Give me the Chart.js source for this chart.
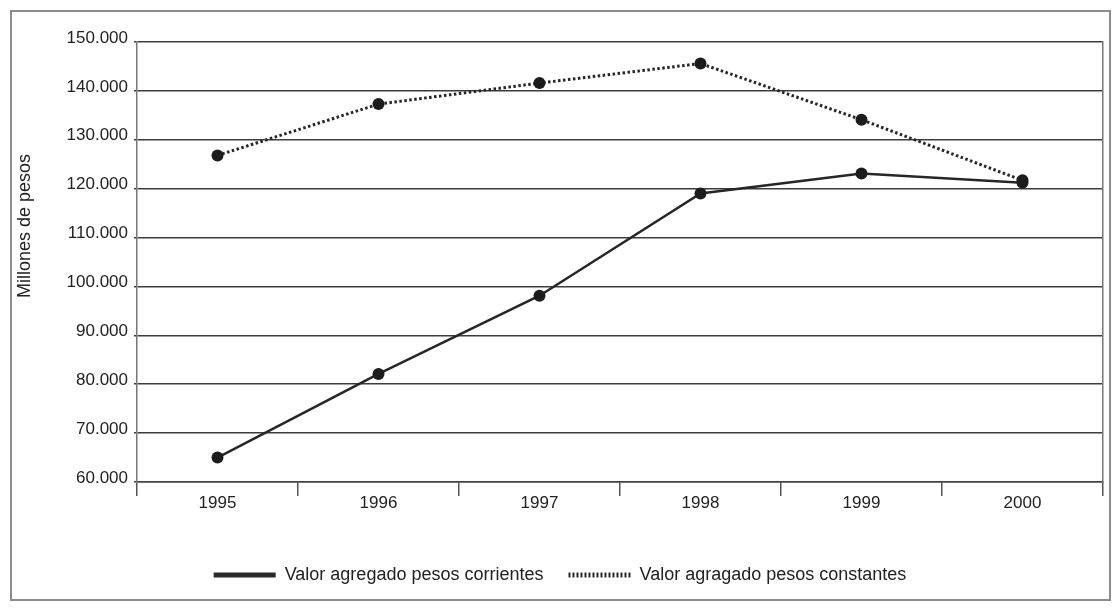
<!DOCTYPE html>
<html>
<head>
  <script src="https://cdn.jsdelivr.net/npm/chart.js"></script>
  <style>
    body {
      margin: 0px;
      background: #ffffff;
    }
    #wrap {
      position: absolute;
      left: 0px;
      top: 0px;
      width: 1120px;
      height: 610px;
    }
    #frame {
      position: absolute;
      left: 10px;
      top: 10px;
      width: 1097px;
      height: 587px;
      border: 2px solid #8c8c8c;
      pointer-events: none;
    }
  </style>
</head>
<body>
  <div id="wrap">
    <canvas id="lineChart" width="1120" height="610"></canvas>
    <div id="frame"></div>
  </div>

  <script>
    // Data
    var years = ['1995', '1996', '1997', '1998', '1999', '2000'];
    var corrientes = [65000, 82100, 98100, 119000, 123100, 121200];
    var constantes = [126800, 137300, 141600, 145600, 134100, 121700];
    var yTitle = 'Millones de pesos';
    var seriesNames = ['Valor agregado pesos corrientes', 'Valor agragado pesos constantes'];

    var fontFamily = '"Liberation Sans", Arial, sans-serif';
    var ink = '#222222';

    // y axis title is drawn by hand so it sits where the original has it
    var yTitlePlugin = {
      id: 'yTitle',
      afterDraw: function(chart) {
        var ctx = chart.ctx;
        ctx.save();
        ctx.translate(25, 226);
        ctx.rotate(-Math.PI / 2);
        ctx.font = '18px ' + fontFamily;
        ctx.fillStyle = ink;
        ctx.textAlign = 'center';
        ctx.textBaseline = 'middle';
        ctx.fillText(yTitle, 0, 0);
        ctx.restore();
      }
    };

    var config = {
      type: 'line',
      data: {
        labels: years,
        datasets: [{
          label: seriesNames[0],
          data: corrientes,
          borderColor: '#262626',
          backgroundColor: '#1c1c1c',
          borderWidth: 2.5,
          pointRadius: 6,
          pointBorderWidth: 0,
          pointBackgroundColor: '#1c1c1c',
          tension: 0,
          fill: false
        }, {
          label: seriesNames[1],
          data: constantes,
          borderColor: '#262626',
          backgroundColor: '#1c1c1c',
          borderWidth: 3,
          borderDash: [2.5, 2.5],
          pointRadius: 6,
          pointBorderWidth: 0,
          pointBackgroundColor: '#1c1c1c',
          tension: 0,
          fill: false
        }]
      },
      options: {
        responsive: false,
        animation: false,
        layout: {
          padding: { left: 0, right: 0, top: 42, bottom: 16 }
        },
        plugins: {
          tooltip: { enabled: false },
          legend: {
            position: 'bottom',
            labels: {
              color: ink,
              font: { family: fontFamily, size: 18 },
              padding: 25,
              usePointStyle: true,
              pointStyle: 'line',
              pointStyleWidth: 62,
              generateLabels: function(chart) {
                var items = Chart.defaults.plugins.legend.labels.generateLabels(chart);
                items.forEach(function(it) {
                  it.lineWidth = 5;
                  it.strokeStyle = '#2a2a2a';
                  it.pointStyle = 'line';
                  it.lineCap = 'butt';
                  // second series is the dotted one
                  it.lineDash = it.datasetIndex === 1 ? [2, 2] : [];
                });
                return items;
              }
            }
          }
        },
        scales: {
          x: {
            offset: true,
            grid: {
              offset: true,
              drawOnChartArea: false,
              drawTicks: true,
              tickLength: 14,
              color: '#555555',
              lineWidth: 1.5
            },
            border: { display: true, color: '#444444', width: 1.5 },
            ticks: {
              color: ink,
              font: { family: fontFamily, size: 17 },
              padding: -3,
              maxRotation: 0
            },
            afterFit: function(scale) {
              scale.height = 59;
            }
          },
          y: {
            min: 60000,
            max: 150000,
            grid: {
              color: '#3c3c3c',
              lineWidth: 1.5,
              drawTicks: true,
              tickLength: 3
            },
            border: { display: true, color: '#777777', width: 1.5 },
            ticks: {
              stepSize: 10000,
              color: ink,
              font: { family: fontFamily, size: 17 },
              padding: 6,
              labelOffset: -4,
              callback: function(v) {
                return String(v).replace(/\B(?=(\d{3})+(?!\d))/g, '.');
              }
            },
            afterFit: function(scale) {
              scale.width = 137;
            }
          },
          y2: {
            position: 'right',
            min: 60000,
            max: 150000,
            grid: { display: false, drawTicks: false },
            border: { display: true, color: '#777777', width: 1.5 },
            ticks: { display: false },
            afterFit: function(scale) {
              scale.width = 17;
            }
          }
        }
      },
      plugins: [yTitlePlugin]
    };

    var ctx = document.getElementById('lineChart').getContext('2d');
    new Chart(ctx, config);
  </script>
</body>
</html>
